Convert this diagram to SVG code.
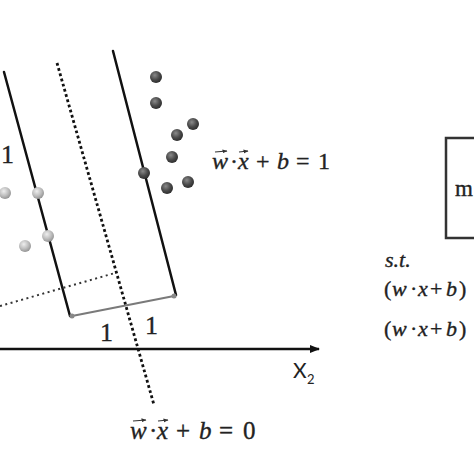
<svg xmlns="http://www.w3.org/2000/svg" width="474" height="474" viewBox="0 0 474 474">
<defs>
<radialGradient id="dark" cx="0.4" cy="0.35" r="0.65">
<stop offset="0" stop-color="#8a8a8a"/>
<stop offset="0.6" stop-color="#4a4a4a"/>
<stop offset="1" stop-color="#2e2e2e"/>
</radialGradient>
<radialGradient id="light" cx="0.4" cy="0.35" r="0.65">
<stop offset="0" stop-color="#eeeeee"/>
<stop offset="0.6" stop-color="#bdbdbd"/>
<stop offset="1" stop-color="#959595"/>
</radialGradient>
<marker id="arr" markerWidth="10" markerHeight="8" refX="9" refY="4" orient="auto" markerUnits="userSpaceOnUse">
<path d="M0,0 L10,4 L0,8 z" fill="#111"/>
</marker>
<marker id="vec" markerWidth="5" markerHeight="5" refX="4.5" refY="2.5" orient="auto" markerUnits="userSpaceOnUse">
<path d="M0,0.5 L5,2.5 L0,4.5 z" fill="#333"/>
</marker>
</defs>
<style>
.solid{stroke:#111;stroke-width:2.5;fill:none;stroke-linecap:round}
.dots{stroke:#111;stroke-width:2.8;fill:none;stroke-dasharray:2.8 2.6}
.fdots{stroke:#333;stroke-width:2;fill:none;stroke-dasharray:2 3.5}
.ser{font-family:"Liberation Serif","Times New Roman",serif;fill:#222;stroke:#222;stroke-width:0.35}
.it{font-style:italic}
.vecl{stroke:#333;stroke-width:1.1;fill:none}
.dk{fill:url(#dark)}
.lt{fill:url(#light)}
</style>
<rect width="474" height="474" fill="#fff"/>

<g id="connectors">
<line id="margin-left" class="solid" x1="4" y1="72" x2="70" y2="316"/>
<line id="margin-right" class="solid" x1="113" y1="51" x2="176" y2="295"/>
<line id="hyperplane" class="dots" x1="57" y1="63" x2="154" y2="405"/>
<line id="normal" class="fdots" x1="0" y1="306" x2="115" y2="273"/>
<line id="width" x1="72" y1="316" x2="174" y2="296" stroke="#7a7a7a" stroke-width="2.2"/>
<circle cx="72" cy="316" r="2.5" fill="#888"/>
<circle cx="174" cy="296" r="2.5" fill="#888"/>
<line id="x-axis" x1="0" y1="349" x2="319" y2="349" stroke="#111" stroke-width="2.6" marker-end="url(#arr)"/>
</g>

<g id="class-dark">
<circle class="dk" cx="156" cy="77" r="6"/>
<circle class="dk" cx="156" cy="103" r="6"/>
<circle class="dk" cx="193" cy="124" r="6"/>
<circle class="dk" cx="177" cy="135" r="6"/>
<circle class="dk" cx="172" cy="157" r="6"/>
<circle class="dk" cx="144" cy="173" r="6"/>
<circle class="dk" cx="167" cy="188" r="6"/>
<circle class="dk" cx="188" cy="182" r="6"/>
</g>
<g id="class-light">
<circle class="lt" cx="5" cy="193" r="6"/>
<circle class="lt" cx="38" cy="193" r="6"/>
<circle class="lt" cx="48" cy="236" r="6"/>
<circle class="lt" cx="25" cy="246" r="6"/>
</g>

<g id="labels-one" class="ser" font-size="26">
<text x="1" y="163">1</text>
<text x="100" y="341">1</text>
<text x="145" y="334">1</text>
</g>

<g id="axis-label" font-family="Lato,'Open Sans',sans-serif" fill="#222">
<text x="293" y="378" font-size="21">X</text>
<text x="307" y="384" font-size="13">2</text>
</g>

<g id="eq-margin" class="ser" font-size="24">
<text y="169"><tspan x="212" class="it">w</tspan><tspan x="230">·</tspan><tspan x="238" class="it">x</tspan><tspan x="256">+</tspan><tspan x="277" class="it">b</tspan><tspan x="296">=</tspan><tspan x="318">1</tspan></text>
<line class="vecl" x1="215" y1="152" x2="227" y2="151" marker-end="url(#vec)"/>
<line class="vecl" x1="239" y1="152" x2="248" y2="151" marker-end="url(#vec)"/>
</g>

<g id="eq-hyperplane" class="ser" font-size="25">
<text y="439"><tspan x="130" class="it">w</tspan><tspan x="149">·</tspan><tspan x="157" class="it">x</tspan><tspan x="176">+</tspan><tspan x="199" class="it">b</tspan><tspan x="219">=</tspan><tspan x="243">0</tspan></text>
<line class="vecl" x1="133" y1="421" x2="146" y2="420" marker-end="url(#vec)"/>
<line class="vecl" x1="158" y1="421" x2="168" y2="420" marker-end="url(#vec)"/>
</g>

<g id="objective-box">
<rect x="446" y="138" width="60" height="100" fill="none" stroke="#333" stroke-width="2.5"/>
<text class="ser" x="455" y="196" font-size="23">m</text>
</g>

<g id="constraints" class="ser" font-size="22">
<text x="385" y="267" class="it">s.t.</text>
<text y="296"><tspan x="384">(</tspan><tspan x="392" class="it">w</tspan><tspan x="410">·</tspan><tspan x="418" class="it">x</tspan><tspan x="430">+</tspan><tspan x="446" class="it">b</tspan><tspan x="459">)</tspan></text>
<text y="336"><tspan x="384">(</tspan><tspan x="392" class="it">w</tspan><tspan x="410">·</tspan><tspan x="418" class="it">x</tspan><tspan x="430">+</tspan><tspan x="446" class="it">b</tspan><tspan x="459">)</tspan></text>
</g>
</svg>
